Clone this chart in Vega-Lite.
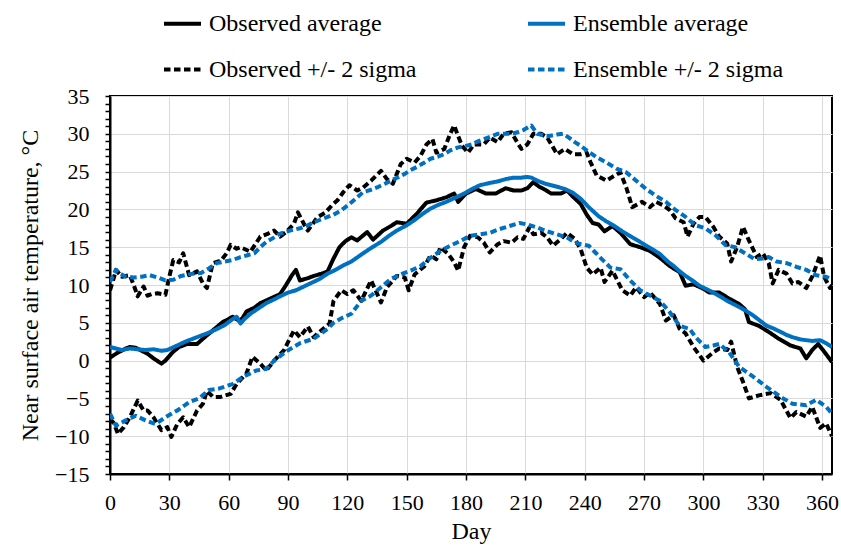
{
  "$schema": "https://vega.github.io/schema/vega-lite/v6.json",
  "width": 722,
  "height": 378,
  "autosize": {"type": "none"},
  "padding": {"left": 110, "top": 96, "right": 9, "bottom": 76},
  "background": "white",
  "config": {
    "font": "Liberation Serif",
    "view": {"stroke": "#000000", "strokeWidth": 2},
    "axis": {"labelFont": "Liberation Serif", "titleFont": "Liberation Serif", "labelColor": "#000", "titleColor": "#000", "titleFontWeight": "normal", "gridColor": "#d9d9d9", "gridWidth": 1, "domainColor": "#000", "domainWidth": 2, "tickColor": "#000", "tickWidth": 1.5},
    "legend": {"labelFont": "Liberation Serif"}
  },
  "datasets": {
    "names": [
      {"g": "oa", "s": "Observed average"},
      {"g": "ea", "s": "Ensemble average"},
      {"g": "ou", "s": "Observed +/- 2 sigma"},
      {"g": "ol", "s": "Observed +/- 2 sigma"},
      {"g": "eu", "s": "Ensemble +/- 2 sigma"},
      {"g": "el", "s": "Ensemble +/- 2 sigma"}
    ]
  },
  "data": {"values": [
    {"g":"ou","d":0,"v":9.3},{"g":"ou","d":2,"v":11.0},{"g":"ou","d":3,"v":12.0},{"g":"ou","d":6,"v":11.1},{"g":"ou","d":10,"v":11.3},{"g":"ou","d":12,"v":10.0},{"g":"ou","d":14,"v":8.5},{"g":"ou","d":17,"v":9.8},{"g":"ou","d":19,"v":8.6},{"g":"ou","d":21,"v":8.8},{"g":"ou","d":24,"v":8.9},{"g":"ou","d":28,"v":8.7},{"g":"ou","d":30,"v":11.1},{"g":"ou","d":32,"v":13.3},{"g":"ou","d":35,"v":13.0},{"g":"ou","d":37,"v":14.2},{"g":"ou","d":40,"v":11.3},{"g":"ou","d":44,"v":11.8},{"g":"ou","d":47,"v":10.2},{"g":"ou","d":49,"v":9.6},{"g":"ou","d":52,"v":12.9},{"g":"ou","d":56,"v":13.2},{"g":"ou","d":59,"v":14.2},{"g":"ou","d":61,"v":15.3},{"g":"ou","d":64,"v":14.8},{"g":"ou","d":66,"v":15.0},{"g":"ou","d":71,"v":14.4},{"g":"ou","d":76,"v":16.4},{"g":"ou","d":80,"v":16.8},{"g":"ou","d":83,"v":17.2},{"g":"ou","d":86,"v":16.4},{"g":"ou","d":89,"v":17.0},{"g":"ou","d":93,"v":18.1},{"g":"ou","d":95,"v":19.6},{"g":"ou","d":98,"v":18.1},{"g":"ou","d":100,"v":17.2},{"g":"ou","d":105,"v":19.0},{"g":"ou","d":109,"v":19.6},{"g":"ou","d":112,"v":20.5},{"g":"ou","d":115,"v":21.2},{"g":"ou","d":118,"v":22.3},{"g":"ou","d":121,"v":23.2},{"g":"ou","d":125,"v":22.5},{"g":"ou","d":128,"v":22.9},{"g":"ou","d":132,"v":23.8},{"g":"ou","d":137,"v":25.1},{"g":"ou","d":140,"v":24.0},{"g":"ou","d":143,"v":23.4},{"g":"ou","d":147,"v":26.0},{"g":"ou","d":150,"v":26.7},{"g":"ou","d":154,"v":26.2},{"g":"ou","d":157,"v":27.1},{"g":"ou","d":160,"v":28.6},{"g":"ou","d":163,"v":29.3},{"g":"ou","d":165,"v":27.5},{"g":"ou","d":169,"v":28.0},{"g":"ou","d":172,"v":30.0},{"g":"ou","d":174,"v":31.1},{"g":"ou","d":176,"v":29.7},{"g":"ou","d":178,"v":28.4},{"g":"ou","d":181,"v":27.5},{"g":"ou","d":184,"v":28.6},{"g":"ou","d":189,"v":28.6},{"g":"ou","d":192,"v":29.5},{"g":"ou","d":196,"v":28.9},{"g":"ou","d":199,"v":30.0},{"g":"ou","d":203,"v":30.2},{"g":"ou","d":206,"v":28.8},{"g":"ou","d":208,"v":28.0},{"g":"ou","d":211,"v":28.6},{"g":"ou","d":214,"v":30.0},{"g":"ou","d":218,"v":30.0},{"g":"ou","d":221,"v":29.5},{"g":"ou","d":224,"v":28.2},{"g":"ou","d":226,"v":27.3},{"g":"ou","d":230,"v":28.0},{"g":"ou","d":234,"v":27.3},{"g":"ou","d":238,"v":27.3},{"g":"ou","d":241,"v":27.5},{"g":"ou","d":243,"v":26.2},{"g":"ou","d":246,"v":24.5},{"g":"ou","d":251,"v":23.8},{"g":"ou","d":254,"v":24.3},{"g":"ou","d":258,"v":24.9},{"g":"ou","d":261,"v":22.9},{"g":"ou","d":264,"v":20.3},{"g":"ou","d":269,"v":21.0},{"g":"ou","d":273,"v":20.3},{"g":"ou","d":276,"v":21.0},{"g":"ou","d":280,"v":20.5},{"g":"ou","d":283,"v":19.9},{"g":"ou","d":286,"v":18.8},{"g":"ou","d":290,"v":18.3},{"g":"ou","d":292,"v":16.4},{"g":"ou","d":295,"v":18.1},{"g":"ou","d":298,"v":19.0},{"g":"ou","d":301,"v":19.0},{"g":"ou","d":305,"v":17.7},{"g":"ou","d":308,"v":16.4},{"g":"ou","d":312,"v":15.5},{"g":"ou","d":314,"v":13.1},{"g":"ou","d":317,"v":15.0},{"g":"ou","d":320,"v":17.7},{"g":"ou","d":323,"v":15.9},{"g":"ou","d":327,"v":13.7},{"g":"ou","d":330,"v":14.2},{"g":"ou","d":333,"v":12.9},{"g":"ou","d":335,"v":10.2},{"g":"ou","d":338,"v":12.0},{"g":"ou","d":342,"v":11.5},{"g":"ou","d":345,"v":10.2},{"g":"ou","d":348,"v":10.4},{"g":"ou","d":352,"v":9.6},{"g":"ou","d":355,"v":11.1},{"g":"ou","d":359,"v":13.9},{"g":"ou","d":361,"v":11.1},{"g":"ou","d":364,"v":9.6},{"g":"ou","d":365,"v":10.0},
    {"g":"ol","d":0,"v":-7.7},{"g":"ol","d":2,"v":-8.3},{"g":"ol","d":4,"v":-9.7},{"g":"ol","d":7,"v":-8.8},{"g":"ol","d":10,"v":-7.5},{"g":"ol","d":14,"v":-5.3},{"g":"ol","d":17,"v":-6.6},{"g":"ol","d":19,"v":-6.6},{"g":"ol","d":22,"v":-7.5},{"g":"ol","d":26,"v":-9.2},{"g":"ol","d":29,"v":-8.8},{"g":"ol","d":31,"v":-10.1},{"g":"ol","d":34,"v":-8.4},{"g":"ol","d":37,"v":-7.5},{"g":"ol","d":40,"v":-8.8},{"g":"ol","d":44,"v":-6.6},{"g":"ol","d":47,"v":-5.7},{"g":"ol","d":49,"v":-4.0},{"g":"ol","d":52,"v":-4.8},{"g":"ol","d":56,"v":-4.8},{"g":"ol","d":61,"v":-4.4},{"g":"ol","d":64,"v":-3.1},{"g":"ol","d":69,"v":-1.7},{"g":"ol","d":72,"v":0.5},{"g":"ol","d":76,"v":-0.4},{"g":"ol","d":79,"v":-1.3},{"g":"ol","d":83,"v":0.0},{"g":"ol","d":88,"v":1.4},{"g":"ol","d":93,"v":4.0},{"g":"ol","d":96,"v":3.1},{"g":"ol","d":100,"v":4.5},{"g":"ol","d":103,"v":3.1},{"g":"ol","d":106,"v":3.8},{"g":"ol","d":111,"v":4.9},{"g":"ol","d":113,"v":7.9},{"g":"ol","d":117,"v":9.3},{"g":"ol","d":120,"v":8.8},{"g":"ol","d":123,"v":9.3},{"g":"ol","d":127,"v":7.9},{"g":"ol","d":132,"v":10.6},{"g":"ol","d":137,"v":7.7},{"g":"ol","d":140,"v":9.7},{"g":"ol","d":145,"v":11.2},{"g":"ol","d":149,"v":11.0},{"g":"ol","d":151,"v":9.3},{"g":"ol","d":154,"v":11.4},{"g":"ol","d":159,"v":12.5},{"g":"ol","d":162,"v":13.9},{"g":"ol","d":165,"v":13.4},{"g":"ol","d":167,"v":15.0},{"g":"ol","d":171,"v":14.1},{"g":"ol","d":174,"v":13.0},{"g":"ol","d":176,"v":11.9},{"g":"ol","d":179,"v":15.0},{"g":"ol","d":182,"v":16.5},{"g":"ol","d":186,"v":16.3},{"g":"ol","d":189,"v":15.6},{"g":"ol","d":192,"v":14.3},{"g":"ol","d":196,"v":15.4},{"g":"ol","d":199,"v":15.8},{"g":"ol","d":203,"v":15.6},{"g":"ol","d":206,"v":16.3},{"g":"ol","d":209,"v":16.1},{"g":"ol","d":212,"v":17.6},{"g":"ol","d":214,"v":16.7},{"g":"ol","d":218,"v":16.9},{"g":"ol","d":221,"v":16.3},{"g":"ol","d":224,"v":15.2},{"g":"ol","d":228,"v":16.1},{"g":"ol","d":231,"v":16.9},{"g":"ol","d":235,"v":16.1},{"g":"ol","d":238,"v":14.7},{"g":"ol","d":241,"v":12.3},{"g":"ol","d":244,"v":11.4},{"g":"ol","d":248,"v":12.3},{"g":"ol","d":250,"v":10.4},{"g":"ol","d":254,"v":11.9},{"g":"ol","d":259,"v":9.3},{"g":"ol","d":263,"v":8.6},{"g":"ol","d":266,"v":9.7},{"g":"ol","d":270,"v":8.4},{"g":"ol","d":273,"v":9.0},{"g":"ol","d":278,"v":7.5},{"g":"ol","d":281,"v":5.3},{"g":"ol","d":285,"v":6.0},{"g":"ol","d":288,"v":4.2},{"g":"ol","d":291,"v":3.6},{"g":"ol","d":295,"v":1.8},{"g":"ol","d":300,"v":0.0},{"g":"ol","d":305,"v":1.1},{"g":"ol","d":308,"v":1.6},{"g":"ol","d":312,"v":1.4},{"g":"ol","d":314,"v":2.5},{"g":"ol","d":317,"v":-0.8},{"g":"ol","d":320,"v":-2.8},{"g":"ol","d":323,"v":-5.0},{"g":"ol","d":328,"v":-4.6},{"g":"ol","d":334,"v":-4.3},{"g":"ol","d":339,"v":-5.2},{"g":"ol","d":344,"v":-7.6},{"g":"ol","d":347,"v":-6.8},{"g":"ol","d":352,"v":-7.4},{"g":"ol","d":355,"v":-6.1},{"g":"ol","d":359,"v":-8.9},{"g":"ol","d":362,"v":-8.3},{"g":"ol","d":365,"v":-10.0},
    {"g":"eu","d":0,"v":10.4},{"g":"eu","d":3,"v":12.0},{"g":"eu","d":5,"v":11.5},{"g":"eu","d":8,"v":11.1},{"g":"eu","d":12,"v":11.0},{"g":"eu","d":16,"v":11.1},{"g":"eu","d":20,"v":11.3},{"g":"eu","d":24,"v":11.0},{"g":"eu","d":28,"v":10.6},{"g":"eu","d":32,"v":10.7},{"g":"eu","d":36,"v":11.2},{"g":"eu","d":42,"v":11.5},{"g":"eu","d":46,"v":11.6},{"g":"eu","d":50,"v":12.2},{"g":"eu","d":54,"v":12.9},{"g":"eu","d":58,"v":13.1},{"g":"eu","d":62,"v":13.3},{"g":"eu","d":66,"v":13.7},{"g":"eu","d":69,"v":13.9},{"g":"eu","d":73,"v":14.2},{"g":"eu","d":76,"v":15.0},{"g":"eu","d":79,"v":15.7},{"g":"eu","d":83,"v":16.3},{"g":"eu","d":86,"v":16.8},{"g":"eu","d":91,"v":17.2},{"g":"eu","d":96,"v":17.5},{"g":"eu","d":100,"v":17.9},{"g":"eu","d":103,"v":18.3},{"g":"eu","d":107,"v":18.7},{"g":"eu","d":110,"v":19.0},{"g":"eu","d":113,"v":19.3},{"g":"eu","d":117,"v":19.9},{"g":"eu","d":121,"v":20.7},{"g":"eu","d":125,"v":21.6},{"g":"eu","d":128,"v":22.3},{"g":"eu","d":132,"v":22.6},{"g":"eu","d":135,"v":22.9},{"g":"eu","d":139,"v":23.4},{"g":"eu","d":142,"v":23.8},{"g":"eu","d":146,"v":24.3},{"g":"eu","d":149,"v":24.7},{"g":"eu","d":152,"v":25.2},{"g":"eu","d":155,"v":25.6},{"g":"eu","d":159,"v":26.2},{"g":"eu","d":162,"v":26.7},{"g":"eu","d":166,"v":27.0},{"g":"eu","d":169,"v":27.3},{"g":"eu","d":172,"v":27.8},{"g":"eu","d":176,"v":28.2},{"g":"eu","d":180,"v":28.4},{"g":"eu","d":183,"v":28.6},{"g":"eu","d":186,"v":29.0},{"g":"eu","d":189,"v":29.3},{"g":"eu","d":193,"v":29.7},{"g":"eu","d":196,"v":30.0},{"g":"eu","d":200,"v":30.0},{"g":"eu","d":203,"v":30.0},{"g":"eu","d":206,"v":30.2},{"g":"eu","d":209,"v":30.5},{"g":"eu","d":213,"v":31.1},{"g":"eu","d":216,"v":30.0},{"g":"eu","d":219,"v":29.8},{"g":"eu","d":222,"v":29.7},{"g":"eu","d":226,"v":29.9},{"g":"eu","d":229,"v":30.0},{"g":"eu","d":232,"v":29.5},{"g":"eu","d":235,"v":28.9},{"g":"eu","d":238,"v":28.4},{"g":"eu","d":241,"v":27.8},{"g":"eu","d":246,"v":26.9},{"g":"eu","d":251,"v":26.2},{"g":"eu","d":256,"v":25.4},{"g":"eu","d":261,"v":24.9},{"g":"eu","d":266,"v":23.8},{"g":"eu","d":271,"v":22.7},{"g":"eu","d":276,"v":21.8},{"g":"eu","d":281,"v":21.0},{"g":"eu","d":286,"v":19.9},{"g":"eu","d":291,"v":19.0},{"g":"eu","d":296,"v":17.9},{"g":"eu","d":301,"v":17.5},{"g":"eu","d":306,"v":16.6},{"g":"eu","d":311,"v":15.3},{"g":"eu","d":316,"v":15.0},{"g":"eu","d":321,"v":14.2},{"g":"eu","d":326,"v":13.4},{"g":"eu","d":330,"v":13.5},{"g":"eu","d":333,"v":13.7},{"g":"eu","d":337,"v":13.1},{"g":"eu","d":342,"v":12.9},{"g":"eu","d":347,"v":12.4},{"g":"eu","d":352,"v":12.0},{"g":"eu","d":357,"v":11.3},{"g":"eu","d":362,"v":11.1},{"g":"eu","d":365,"v":10.7},
    {"g":"el","d":0,"v":-7.0},{"g":"el","d":3,"v":-8.6},{"g":"el","d":6,"v":-8.2},{"g":"el","d":8,"v":-7.9},{"g":"el","d":13,"v":-7.3},{"g":"el","d":18,"v":-7.9},{"g":"el","d":23,"v":-8.4},{"g":"el","d":28,"v":-7.5},{"g":"el","d":34,"v":-6.6},{"g":"el","d":40,"v":-5.5},{"g":"el","d":45,"v":-5.0},{"g":"el","d":50,"v":-3.9},{"g":"el","d":55,"v":-3.7},{"g":"el","d":62,"v":-3.1},{"g":"el","d":67,"v":-2.2},{"g":"el","d":74,"v":-1.3},{"g":"el","d":79,"v":-1.1},{"g":"el","d":83,"v":0.0},{"g":"el","d":89,"v":1.2},{"g":"el","d":96,"v":2.3},{"g":"el","d":103,"v":2.9},{"g":"el","d":110,"v":4.2},{"g":"el","d":113,"v":5.0},{"g":"el","d":117,"v":5.6},{"g":"el","d":122,"v":6.2},{"g":"el","d":127,"v":7.9},{"g":"el","d":132,"v":8.6},{"g":"el","d":137,"v":9.7},{"g":"el","d":142,"v":10.8},{"g":"el","d":147,"v":11.4},{"g":"el","d":152,"v":11.9},{"g":"el","d":157,"v":12.5},{"g":"el","d":162,"v":13.6},{"g":"el","d":167,"v":14.5},{"g":"el","d":172,"v":15.2},{"g":"el","d":177,"v":15.8},{"g":"el","d":182,"v":16.5},{"g":"el","d":187,"v":16.7},{"g":"el","d":192,"v":16.9},{"g":"el","d":197,"v":17.4},{"g":"el","d":202,"v":17.8},{"g":"el","d":207,"v":18.2},{"g":"el","d":211,"v":18.0},{"g":"el","d":216,"v":17.6},{"g":"el","d":221,"v":17.1},{"g":"el","d":226,"v":16.7},{"g":"el","d":231,"v":16.3},{"g":"el","d":235,"v":15.6},{"g":"el","d":238,"v":15.4},{"g":"el","d":242,"v":15.2},{"g":"el","d":245,"v":14.4},{"g":"el","d":248,"v":13.6},{"g":"el","d":253,"v":12.3},{"g":"el","d":258,"v":12.1},{"g":"el","d":263,"v":10.6},{"g":"el","d":268,"v":9.3},{"g":"el","d":273,"v":8.6},{"g":"el","d":278,"v":7.9},{"g":"el","d":283,"v":6.4},{"g":"el","d":288,"v":4.6},{"g":"el","d":293,"v":4.2},{"g":"el","d":296,"v":3.1},{"g":"el","d":301,"v":1.8},{"g":"el","d":305,"v":2.0},{"g":"el","d":308,"v":2.2},{"g":"el","d":313,"v":1.1},{"g":"el","d":318,"v":-0.8},{"g":"el","d":325,"v":-2.1},{"g":"el","d":332,"v":-3.5},{"g":"el","d":339,"v":-4.8},{"g":"el","d":345,"v":-5.7},{"g":"el","d":352,"v":-5.9},{"g":"el","d":357,"v":-5.2},{"g":"el","d":362,"v":-6.1},{"g":"el","d":365,"v":-7.0},
    {"g":"oa","d":0,"v":0.4},{"g":"oa","d":3,"v":0.9},{"g":"oa","d":5,"v":1.2},{"g":"oa","d":8,"v":1.6},{"g":"oa","d":10,"v":1.8},{"g":"oa","d":13,"v":1.7},{"g":"oa","d":16,"v":1.3},{"g":"oa","d":19,"v":0.9},{"g":"oa","d":22,"v":0.3},{"g":"oa","d":26,"v":-0.4},{"g":"oa","d":28,"v":0.0},{"g":"oa","d":30,"v":0.6},{"g":"oa","d":32,"v":1.2},{"g":"oa","d":35,"v":1.8},{"g":"oa","d":39,"v":2.2},{"g":"oa","d":44,"v":2.2},{"g":"oa","d":47,"v":2.9},{"g":"oa","d":52,"v":4.0},{"g":"oa","d":57,"v":5.1},{"g":"oa","d":60,"v":5.5},{"g":"oa","d":62,"v":5.8},{"g":"oa","d":65,"v":5.3},{"g":"oa","d":67,"v":5.6},{"g":"oa","d":69,"v":6.5},{"g":"oa","d":73,"v":7.0},{"g":"oa","d":76,"v":7.6},{"g":"oa","d":81,"v":8.2},{"g":"oa","d":86,"v":8.8},{"g":"oa","d":89,"v":10.0},{"g":"oa","d":92,"v":11.3},{"g":"oa","d":94,"v":12.0},{"g":"oa","d":96,"v":10.6},{"g":"oa","d":100,"v":10.9},{"g":"oa","d":103,"v":11.2},{"g":"oa","d":107,"v":11.5},{"g":"oa","d":110,"v":11.8},{"g":"oa","d":113,"v":13.5},{"g":"oa","d":116,"v":15.0},{"g":"oa","d":119,"v":15.8},{"g":"oa","d":122,"v":16.3},{"g":"oa","d":125,"v":15.9},{"g":"oa","d":130,"v":17.0},{"g":"oa","d":133,"v":16.0},{"g":"oa","d":138,"v":17.2},{"g":"oa","d":142,"v":17.8},{"g":"oa","d":145,"v":18.3},{"g":"oa","d":150,"v":18.1},{"g":"oa","d":155,"v":19.4},{"g":"oa","d":160,"v":20.9},{"g":"oa","d":165,"v":21.2},{"g":"oa","d":170,"v":21.6},{"g":"oa","d":174,"v":22.1},{"g":"oa","d":176,"v":21.0},{"g":"oa","d":180,"v":22.1},{"g":"oa","d":185,"v":22.7},{"g":"oa","d":190,"v":22.1},{"g":"oa","d":195,"v":22.1},{"g":"oa","d":200,"v":22.8},{"g":"oa","d":204,"v":22.5},{"g":"oa","d":208,"v":22.5},{"g":"oa","d":211,"v":22.8},{"g":"oa","d":214,"v":23.6},{"g":"oa","d":217,"v":23.0},{"g":"oa","d":220,"v":22.6},{"g":"oa","d":223,"v":22.1},{"g":"oa","d":228,"v":22.1},{"g":"oa","d":231,"v":22.5},{"g":"oa","d":234,"v":21.7},{"g":"oa","d":238,"v":20.7},{"g":"oa","d":241,"v":19.3},{"g":"oa","d":244,"v":18.2},{"g":"oa","d":247,"v":18.0},{"g":"oa","d":250,"v":17.1},{"g":"oa","d":254,"v":17.8},{"g":"oa","d":258,"v":16.9},{"g":"oa","d":263,"v":15.4},{"g":"oa","d":268,"v":15.0},{"g":"oa","d":273,"v":14.5},{"g":"oa","d":278,"v":13.6},{"g":"oa","d":283,"v":12.5},{"g":"oa","d":288,"v":11.7},{"g":"oa","d":291,"v":9.9},{"g":"oa","d":295,"v":10.1},{"g":"oa","d":300,"v":9.5},{"g":"oa","d":303,"v":9.0},{"g":"oa","d":308,"v":9.0},{"g":"oa","d":313,"v":8.2},{"g":"oa","d":318,"v":7.5},{"g":"oa","d":321,"v":6.8},{"g":"oa","d":323,"v":5.1},{"g":"oa","d":328,"v":4.6},{"g":"oa","d":333,"v":3.8},{"g":"oa","d":338,"v":2.9},{"g":"oa","d":344,"v":2.0},{"g":"oa","d":349,"v":1.6},{"g":"oa","d":352,"v":0.3},{"g":"oa","d":355,"v":1.4},{"g":"oa","d":358,"v":2.2},{"g":"oa","d":361,"v":1.2},{"g":"oa","d":365,"v":-0.2},
    {"g":"ea","d":0,"v":1.8},{"g":"ea","d":3,"v":1.6},{"g":"ea","d":6,"v":1.4},{"g":"ea","d":10,"v":1.6},{"g":"ea","d":14,"v":1.5},{"g":"ea","d":18,"v":1.4},{"g":"ea","d":22,"v":1.5},{"g":"ea","d":26,"v":1.3},{"g":"ea","d":29,"v":1.4},{"g":"ea","d":34,"v":2.0},{"g":"ea","d":38,"v":2.5},{"g":"ea","d":42,"v":2.9},{"g":"ea","d":46,"v":3.3},{"g":"ea","d":51,"v":3.8},{"g":"ea","d":55,"v":4.3},{"g":"ea","d":58,"v":4.7},{"g":"ea","d":62,"v":5.5},{"g":"ea","d":64,"v":5.8},{"g":"ea","d":66,"v":4.9},{"g":"ea","d":68,"v":5.5},{"g":"ea","d":71,"v":6.2},{"g":"ea","d":75,"v":6.9},{"g":"ea","d":79,"v":7.6},{"g":"ea","d":83,"v":8.1},{"g":"ea","d":86,"v":8.5},{"g":"ea","d":90,"v":9.0},{"g":"ea","d":94,"v":9.3},{"g":"ea","d":98,"v":9.8},{"g":"ea","d":102,"v":10.3},{"g":"ea","d":106,"v":10.8},{"g":"ea","d":110,"v":11.5},{"g":"ea","d":114,"v":12.0},{"g":"ea","d":118,"v":12.6},{"g":"ea","d":122,"v":13.1},{"g":"ea","d":128,"v":14.2},{"g":"ea","d":132,"v":14.9},{"g":"ea","d":137,"v":15.7},{"g":"ea","d":141,"v":16.5},{"g":"ea","d":145,"v":17.2},{"g":"ea","d":150,"v":17.9},{"g":"ea","d":154,"v":18.6},{"g":"ea","d":158,"v":19.4},{"g":"ea","d":162,"v":20.1},{"g":"ea","d":166,"v":20.6},{"g":"ea","d":170,"v":21.0},{"g":"ea","d":175,"v":21.6},{"g":"ea","d":179,"v":22.1},{"g":"ea","d":183,"v":22.7},{"g":"ea","d":187,"v":23.2},{"g":"ea","d":192,"v":23.5},{"g":"ea","d":196,"v":23.7},{"g":"ea","d":200,"v":24.0},{"g":"ea","d":204,"v":24.2},{"g":"ea","d":208,"v":24.2},{"g":"ea","d":211,"v":24.3},{"g":"ea","d":213,"v":24.2},{"g":"ea","d":216,"v":23.8},{"g":"ea","d":220,"v":23.4},{"g":"ea","d":223,"v":23.2},{"g":"ea","d":226,"v":23.0},{"g":"ea","d":230,"v":22.7},{"g":"ea","d":234,"v":22.2},{"g":"ea","d":238,"v":21.4},{"g":"ea","d":242,"v":20.3},{"g":"ea","d":247,"v":19.1},{"g":"ea","d":251,"v":18.4},{"g":"ea","d":255,"v":17.8},{"g":"ea","d":259,"v":17.1},{"g":"ea","d":264,"v":16.3},{"g":"ea","d":268,"v":15.7},{"g":"ea","d":271,"v":15.2},{"g":"ea","d":275,"v":14.6},{"g":"ea","d":278,"v":14.1},{"g":"ea","d":282,"v":13.1},{"g":"ea","d":285,"v":12.5},{"g":"ea","d":288,"v":11.8},{"g":"ea","d":291,"v":11.2},{"g":"ea","d":295,"v":10.5},{"g":"ea","d":298,"v":9.9},{"g":"ea","d":302,"v":9.4},{"g":"ea","d":305,"v":9.0},{"g":"ea","d":309,"v":8.4},{"g":"ea","d":312,"v":7.9},{"g":"ea","d":315,"v":7.5},{"g":"ea","d":318,"v":7.1},{"g":"ea","d":322,"v":6.5},{"g":"ea","d":325,"v":6.0},{"g":"ea","d":329,"v":5.2},{"g":"ea","d":332,"v":4.6},{"g":"ea","d":335,"v":4.3},{"g":"ea","d":339,"v":3.8},{"g":"ea","d":342,"v":3.4},{"g":"ea","d":345,"v":3.1},{"g":"ea","d":349,"v":2.8},{"g":"ea","d":352,"v":2.7},{"g":"ea","d":355,"v":2.6},{"g":"ea","d":359,"v":2.7},{"g":"ea","d":362,"v":2.3},{"g":"ea","d":365,"v":1.8}
  ]},
  "transform": [
    {"lookup": "g", "from": {"data": {"name": "names"}, "key": "g", "fields": ["s"]}}
  ],
  "mark": {"type": "line", "clip": true, "strokeJoin": "round"},
  "encoding": {
    "x": {
      "field": "d", "type": "quantitative",
      "scale": {"domain": [0, 365], "nice": false, "zero": false},
      "axis": {"title": "Day", "values": [0,30,60,90,120,150,180,210,240,270,300,330,360], "labelFont": "Liberation Serif", "titleFont": "Liberation Serif", "labelFontSize": 22, "titleFontSize": 24, "tickSize": 6, "labelPadding": 12, "titlePadding": 6, "labelFlush": false, "labelOverlap": false}
    },
    "y": {
      "field": "v", "type": "quantitative",
      "scale": {"domain": [-15, 35], "nice": false, "zero": false},
      "axis": {
        "title": "Near surface air temperature, °C",
        "values": [-15,-14,-13,-12,-11,-10,-9,-8,-7,-6,-5,-4,-3,-2,-1,0,1,2,3,4,5,6,7,8,9,10,11,12,13,14,15,16,17,18,19,20,21,22,23,24,25,26,27,28,29,30,31,32,33,34,35],
        "labelExpr": "datum.value % 5 === 0 ? datum.label : ''",
        "gridOpacity": {"condition": {"test": "datum.value % 5 === 0", "value": 1}, "value": 0},
        "labelFont": "Liberation Serif", "titleFont": "Liberation Serif",
        "labelFontSize": 22, "titleFontSize": 24, "tickSize": 5, "labelPadding": 16, "titlePadding": 12, "labelOverlap": false, "labelFlush": false
      }
    },
    "detail": {"field": "g"},
    "color": {
      "field": "s", "type": "nominal",
      "scale": {"domain": ["Observed average", "Ensemble average", "Observed +/- 2 sigma", "Ensemble +/- 2 sigma"], "range": ["#000000", "#0070C0", "#000000", "#0070C0"]},
      "legend": {"title": null, "orient": "none", "legendX": 52, "legendY": -93, "columns": 2, "direction": "horizontal", "symbolType": "stroke", "symbolSize": 1369, "labelFont": "Liberation Serif", "labelFontSize": 24, "labelColor": "#000", "labelOffset": 6, "columnPadding": 103, "rowPadding": 13, "labelLimit": 400}
    },
    "strokeDash": {
      "field": "s", "type": "nominal",
      "scale": {"domain": ["Observed average", "Ensemble average", "Observed +/- 2 sigma", "Ensemble +/- 2 sigma"], "range": [[1, 0], [1, 0], [6.5, 3.5], [6.5, 3.5]]}
    },
    "strokeWidth": {
      "field": "s", "type": "nominal",
      "scale": {"domain": ["Observed average", "Ensemble average", "Observed +/- 2 sigma", "Ensemble +/- 2 sigma"], "range": [4, 4, 2.3, 2.3]}
    }
  }
}
